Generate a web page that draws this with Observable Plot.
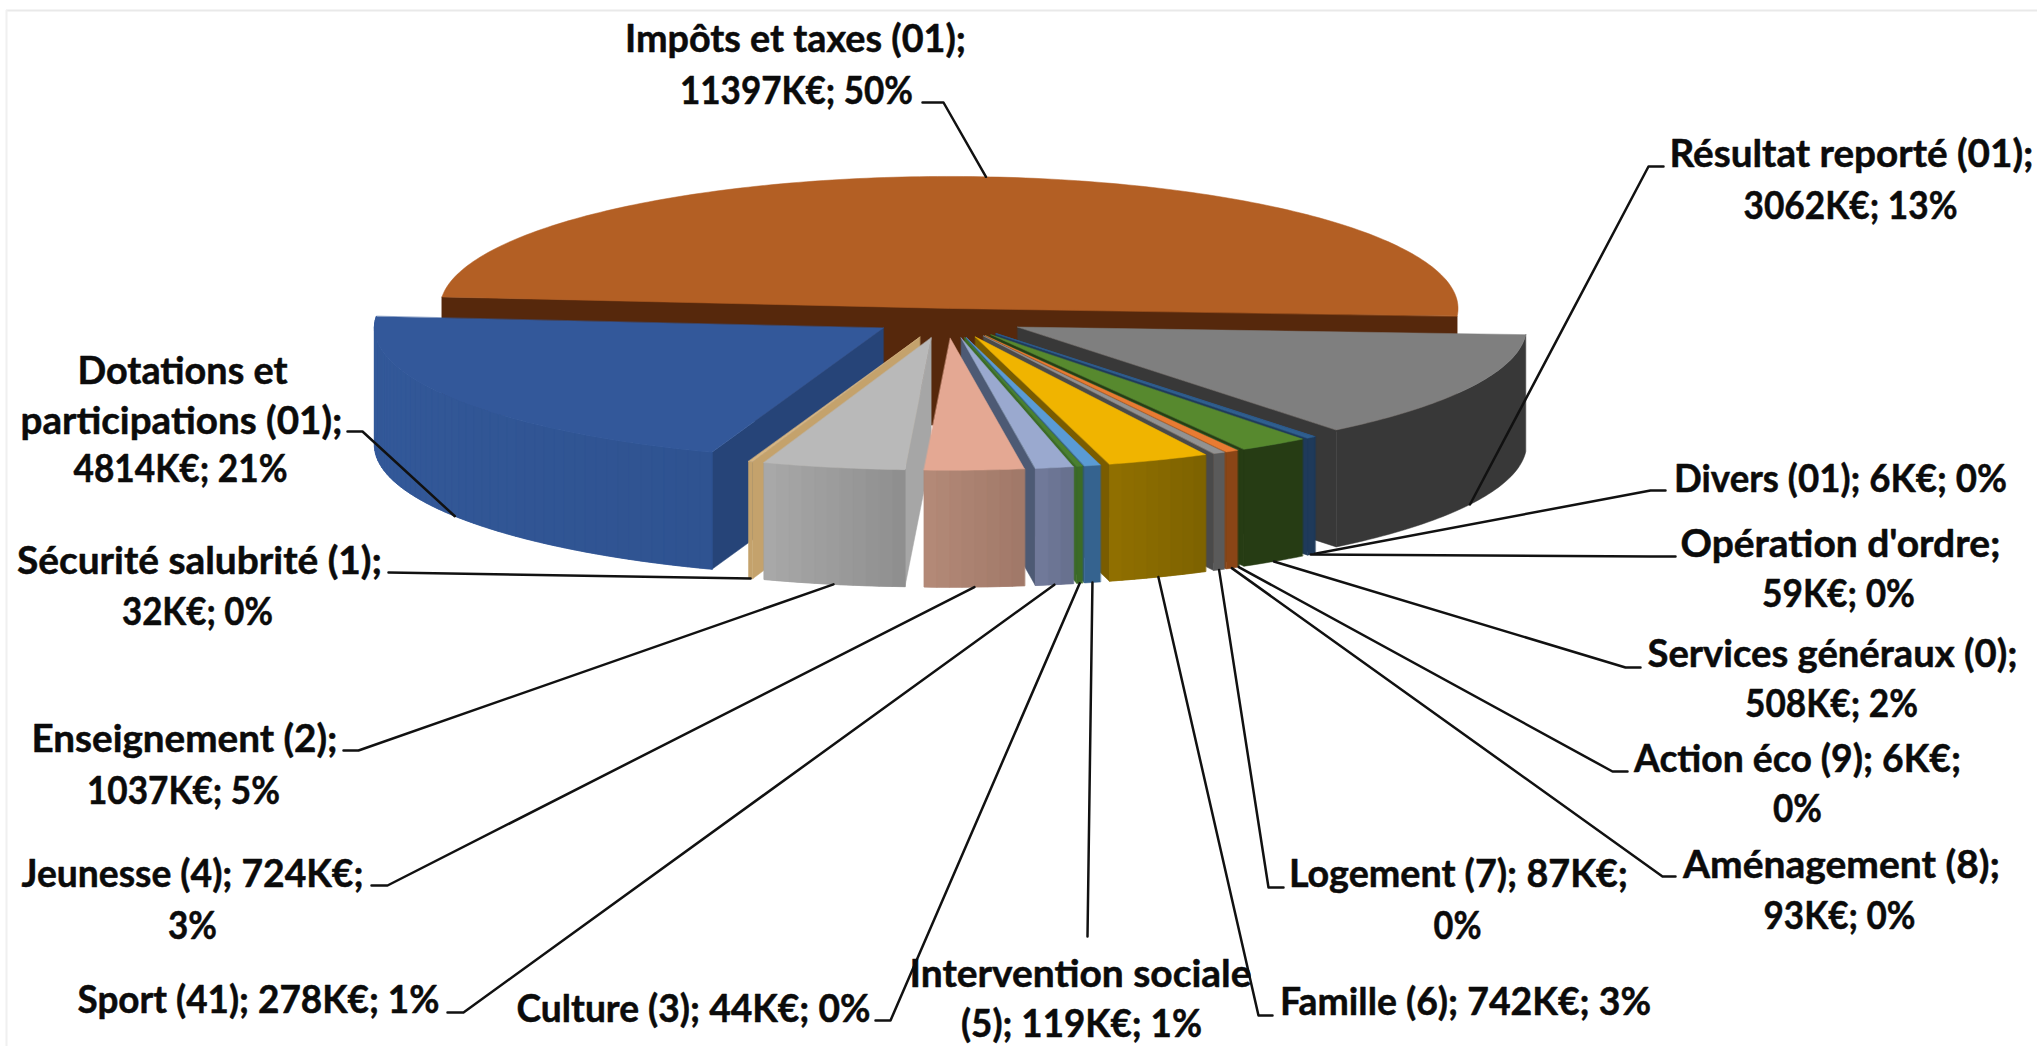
<!DOCTYPE html>
<html lang="fr">
<head>
<meta charset="utf-8">
<title>Répartition des recettes</title>
<style>html,body{margin:0;padding:0;background:#fff}svg{display:block}</style>
<script src="https://cdn.jsdelivr.net/npm/d3@7"></script>
<script src="https://cdn.jsdelivr.net/npm/@observablehq/plot@0.6"></script>
</head>
<body>
<div id="chart"></div>
<script>
// ---- values, in the order of the pie ----
const categories = ["Impôts et taxes (01)","Résultat reporté (01)","Divers (01)","Opération d'ordre","Services généraux (0)","Action éco (9)","Aménagement (8)","Logement (7)","Famille (6)","Intervention sociale (5)","Culture (3)","Sport (41)","Jeunesse (4)","Enseignement (2)","Sécurité salubrité (1)","Dotations et participations (01)"];
const valuesKE = [11397,3062,6,59,508,6,93,87,742,119,44,278,724,1037,32,4814];

// ---- colours, one per slice ----
const topColors   = ["#b35f24","#7f7f7f","#33639a","#2f5f8f","#57892e","#2d5a2a","#e87b32","#929292","#f0b400","#5a9bd5","#4a8030","#9aa9cf","#e4a893","#b9b9b9","#d6b582","#33589a"];
const sideColors  = ["#56280c","#383838","#1f3a5a","#1f3a5a","#263c14","#263c14","#8a4516","#4a4a4a","#7a5c00","#2f5a86","#3c6b26","#4d5a74","#8a6a5c","#a6a6a6","#c4a26c","#264478"];
const wallStart   = ["#56280c","#383838","#1f3a5a","#1f3a5a","#263c14","#263c14","#8a4516","#5a5a5a","#7d6200","#35638f","#3c6b26","#666f8c","#a07868","#8e8e8e","#c4a26c","#2f5391"];
const wallEnd     = ["#56280c","#383838","#1f3a5a","#1f3a5a","#263c14","#263c14","#8a4516","#5a5a5a","#917000","#35638f","#3c6b26","#727b9b","#b48a78","#a9a9a9","#c4a26c","#345a9b"];

// ---- pie layout parameters ----
const explode   = [35,80,80,80,80,80,80,80,80,80,80,80,80,80,80,75];
const drawOrder = [0,1,2,3,4,5,6,7,8,9,10,11,15,14,13,12];
const pie = {cx:946, cy:317, r:509, tilt:132/509, depth:117, startDeg:185};

// ---- label lines: text, centre x, baseline y, drawn width ----
const labelText = ["Impôts et taxes (01);","11397K€; 50%","Résultat reporté (01);","3062K€; 13%","Divers (01); 6K€; 0%","Opération d'ordre;","59K€; 0%","Services généraux (0);","508K€; 2%","Action éco (9); 6K€;","0%","Aménagement (8);","93K€; 0%","Logement (7); 87K€;","0%","Famille (6); 742K€; 3%","Intervention sociale","(5); 119K€; 1%","Culture (3); 44K€; 0%","Sport (41); 278K€; 1%","Jeunesse (4); 724K€;","3%","Enseignement (2);","1037K€; 5%","Sécurité salubrité (1);","32K€; 0%","Dotations et","participations (01);","4814K€; 21%"];
const labelX = [795,796,1851,1850,1840,1840,1838,1832,1831,1797,1797,1841,1839,1458,1457,1465,1080,1081,693,258,192,192,184,183,199,197,182,181,180];
const labelY = [51,103,166,218,491,556,606,666,716,771,821,877,928,886,938,1014,986,1036,1021,1012,886,938,751,803,573,624,383,433,481];
const labelWidth = [341,233,364,214,333,320,153,370,173,327,49,317,152,339,48,371,342,241,354,362,342,49,306,193,365,151,210,322,214];

// ---- leader lines: start beside the label, elbow; the far end comes from the slice ----
const leaderStartX = [922,1663,1665,1675,1640,1627,1675,1283,1272,1087,875,447,371,343,388,347];
const leaderElbowX = [943,1648,1650,1650,1625,1612,1662,1268,1258,1087,890,463,387,358,388,362];
const leaderY      = [102,166,490,556,667,771,876,887,1015,936,1020,1012,885,750,572,431];

// ---- geometry derived from the values ----
const total = d3.sum(valuesKE);
const rad = d => d * Math.PI / 180;
let acc = pie.startDeg;
const slices = categories.map((name, i) => {
  const a0 = acc, a1 = acc + 360 * valuesKE[i] / total; acc = a1;
  const mid = (a0 + a1) / 2;
  const ax = pie.cx + explode[i] * Math.cos(rad(mid));
  const ay = pie.cy + explode[i] * pie.tilt * Math.sin(rad(mid));
  const rim = t => [ax + pie.r * Math.cos(rad(t)), ay + pie.r * pie.tilt * Math.sin(rad(t))];
  return {name, i, a0, a1, mid, ax, ay, rim};
});

const polys = [];
function addPoly(id, fill, pts) { pts.forEach(p => polys.push({id, fill, x:p[0], y:p[1]})); }
const D = pie.depth;
for (const i of drawOrder) {
  const s = slices[i];
  const apex = [s.ax, s.ay];
  const down = p => [p[0], p[1] + D];
  const side = a => { const r = s.rim(a); addPoly(`s${i}-${a}`, sideColors[i], [apex, r, down(r), down(apex)]); };
  const m = Math.max(2, Math.ceil((s.a1 - s.a0) / 1));
  const arc = d3.range(m + 1).map(k => s.rim(s.a0 + (s.a1 - s.a0) * k / m));
  if (i === 0) { // back half: only its cut face shows under the top
    const l = s.rim(s.a0), r = s.rim(s.a1);
    addPoly("cut", sideColors[0], [l, r, down(r), down(apex), down(l)]);
  } else {
    if (Math.cos(rad(s.a0)) < 0) side(s.a0);
    if (Math.cos(rad(s.a1)) > 0) side(s.a1);
    const col = d3.interpolateRgb(wallStart[i], wallEnd[i]);
    // whole wall first, then the shading bands on top of it
    addPoly(`b${i}`, col(.5), [...arc, ...arc.map(down).reverse()]);
    if (wallStart[i] !== wallEnd[i]) {
      const n = Math.max(1, Math.ceil((s.a1 - s.a0) / 1.5));
      for (let k = 0; k < n; k++) {
        const t0 = s.a0 + (s.a1 - s.a0) * k / n, t1 = s.a0 + (s.a1 - s.a0) * (k + 1) / n;
        addPoly(`w${i}-${k}`, col((k + .5) / n), [s.rim(t0), s.rim(t1), down(s.rim(t1)), down(s.rim(t0))]);
      }
    }
  }
  addPoly(`t${i}`, topColors[i], [apex, ...arc]);
}

const leaders = slices.flatMap(s => {
  const e = s.rim(s.mid), i = s.i;
  const end = Math.sin(rad(s.mid)) < 0 ? e : [e[0], e[1] + D];
  return [[leaderStartX[i], leaderY[i]], [leaderElbowX[i], leaderY[i]], end].map(p => ({id:i, x:p[0], y:p[1]}));
});
const labels = labelText.map((text, i) => ({text, x:labelX[i], y:labelY[i], w:labelWidth[i]}));

const chart = Plot.plot({
  width: 2037, height: 1046,
  margin: 0,
  style: {background: "#fff"},
  x: {domain: [0, 2037], range: [0, 2037], axis: null},
  y: {domain: [0, 1046], range: [0, 1046], axis: null},
  marks: [
    Plot.ruleY([10], {x1: 6, x2: 2037, stroke: "#e9e9e9", strokeWidth: 2}),
    Plot.ruleX([6], {y1: 10, y2: 1046, stroke: "#f0f0f0", strokeWidth: 2}),
    Plot.line(polys, {x: "x", y: "y", z: "id", fill: "fill", stroke: "fill", strokeWidth: 0.5, curve: "linear-closed"}),
    Plot.line(leaders, {x: "x", y: "y", z: "id", stroke: "#111", strokeWidth: 2.5, curve: "linear"}),
    Plot.text(labels, {x: "x", y: "y", text: "text", fontSize: 38, fontFamily: "Lato", fontWeight: 700, fill: "#0b0b0b", stroke: "#0b0b0b", strokeWidth: 0.5, textAnchor: "middle", lineAnchor: "bottom",
      render(index, scales, values, dims, ctx, next) {
        const g = next(index, scales, values, dims, ctx);
        d3.select(g).selectAll("text").each(function (_, k) {
          this.setAttribute("textLength", labels[index[k]].w);
          this.setAttribute("lengthAdjust", "spacingAndGlyphs");
        });
        return g;
      }})
  ]
});
document.getElementById("chart").append(chart);
</script>
</body>
</html>
